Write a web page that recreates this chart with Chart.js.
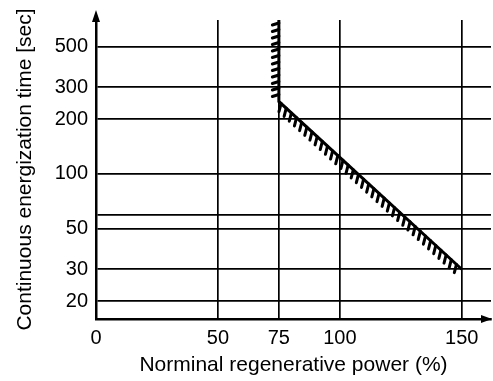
<!DOCTYPE html>
<html>
<head>
<meta charset="utf-8">
<title>Continuous energization time</title>
<script src="https://cdn.jsdelivr.net/npm/chart.js@4/dist/chart.umd.min.js"></script>
<style>
  html, body { margin: 0; padding: 0; background: #fff; }
  #chart { display: block; }
</style>
</head>
<body>
<canvas id="chart" width="493" height="381"></canvas>
<script>
// ─── Data ────────────────────────────────────────────
const powerPct = [75, 75, 150];        // Norminal regenerative power (%)
const timeSec = [700, 250, 30];        // Continuous energization time [sec]

const xTicks = [0, 50, 75, 100, 150];
const yGrid = [20, 30, 50, 60, 100, 200, 300, 500];
const yLabels = [20, 30, 50, 100, 200, 300, 500];

// ─── Style ───────────────────────────────────────────
const FONT = 'Liberation Sans, Arial, Helvetica, sans-serif';
const INK = '#000';

// Hatch marks along the limit line + axis arrowheads
const hatchPlugin = {
  id: 'hatch',
  afterDatasetsDraw(chart) {
    const pts = chart.getDatasetMeta(0).data;
    const ctx = chart.ctx;
    ctx.save();
    ctx.strokeStyle = INK;
    ctx.lineWidth = 3;
    ctx.lineCap = 'round';
    for (let i = 0; i < pts.length - 1; i++) {
      const a = pts[i], b = pts[i + 1];
      const dx = b.x - a.x, dy = b.y - a.y;
      const len = Math.hypot(dx, dy);
      const ux = dx / len, uy = dy / len;
      const nx = -uy, ny = ux;          // left side of travel direction
      const gap = i === 0 ? 6.5 : 7;
      const out = i === 0 ? 6.5 : 7.5;
      const tilt = i === 0 ? 2 : 4;
      for (let s = 3; s < len - 1; s += gap) {
        const px = a.x + ux * s, py = a.y + uy * s;
        ctx.beginPath();
        ctx.moveTo(px, py);
        ctx.lineTo(px + nx * out + ux * tilt, py + ny * out + uy * tilt);
        ctx.stroke();
      }
    }
    ctx.restore();
  },
  afterDraw(chart) {
    const { ctx, chartArea } = chart;
    const { left, top, right, bottom } = chartArea;
    ctx.save();
    ctx.fillStyle = INK;
    ctx.strokeStyle = INK;
    ctx.lineWidth = 2.5;
    // y axis arrow
    ctx.beginPath();
    ctx.moveTo(left, top);
    ctx.lineTo(left, 16);
    ctx.stroke();
    ctx.beginPath();
    ctx.moveTo(left, 10);
    ctx.lineTo(left - 4, 22);
    ctx.lineTo(left + 4, 22);
    ctx.closePath();
    ctx.fill();
    // x axis arrow
    ctx.beginPath();
    ctx.moveTo(right + 1, bottom);
    ctx.lineTo(right - 10, bottom - 4);
    ctx.lineTo(right - 10, bottom + 4);
    ctx.closePath();
    ctx.fill();
    ctx.restore();
  }
};

// ─── Chart.js Setup ──────────────────────────────────
const chart = new Chart(document.getElementById('chart'), {
  type: 'scatter',
  data: {
    datasets: [{
      label: 'Limit',
      data: powerPct.map((x, i) => ({ x: x, y: timeSec[i] })),
      showLine: true,
      borderColor: INK,
      borderWidth: 3,
      pointRadius: 0,
      clip: false
    }]
  },
  options: {
    responsive: false,
    animation: false,
    layout: { padding: { top: 19, right: 2, bottom: 0, left: 0 } },
    plugins: {
      legend: { display: false },
      tooltip: { enabled: false }
    },
    scales: {
      x: {
        type: 'linear',
        min: 0,
        max: 162,
        afterBuildTicks: (scale) => { scale.ticks = xTicks.map(v => ({ value: v })); },
        afterFit: (scale) => { scale.height = 62; },
        grid: { color: INK, lineWidth: 1.7, drawTicks: false },
        border: { display: true, color: INK, width: 2.5 },
        ticks: {
          color: INK,
          padding: 7,
          maxRotation: 0,
          autoSkip: false,
          font: { family: FONT, size: 20 },
          callback: (val) => String(val)
        },
        title: {
          display: true,
          text: 'Norminal regenerative power (%)',
          color: INK,
          padding: { top: 0, bottom: 3 },
          font: { family: FONT, size: 21 }
        }
      },
      y: {
        type: 'logarithmic',
        min: 16,
        max: 700,
        afterBuildTicks: (scale) => { scale.ticks = yGrid.map(v => ({ value: v })); },
        afterFit: (scale) => { scale.width = 96; },
        grid: { color: INK, lineWidth: 1.7, drawTicks: false },
        border: { display: true, color: INK, width: 2.5 },
        ticks: {
          color: INK,
          padding: 8,
          autoSkip: false,
          font: { family: FONT, size: 20 },
          callback: (val) => yLabels.includes(val) ? String(val) : ''
        },
        title: {
          display: true,
          text: 'Continuous energization time [sec]',
          color: INK,
          padding: { top: 13, bottom: 0 },
          font: { family: FONT, size: 21 }
        }
      }
    }
  },
  plugins: [hatchPlugin]
});
</script>
</body>
</html>
